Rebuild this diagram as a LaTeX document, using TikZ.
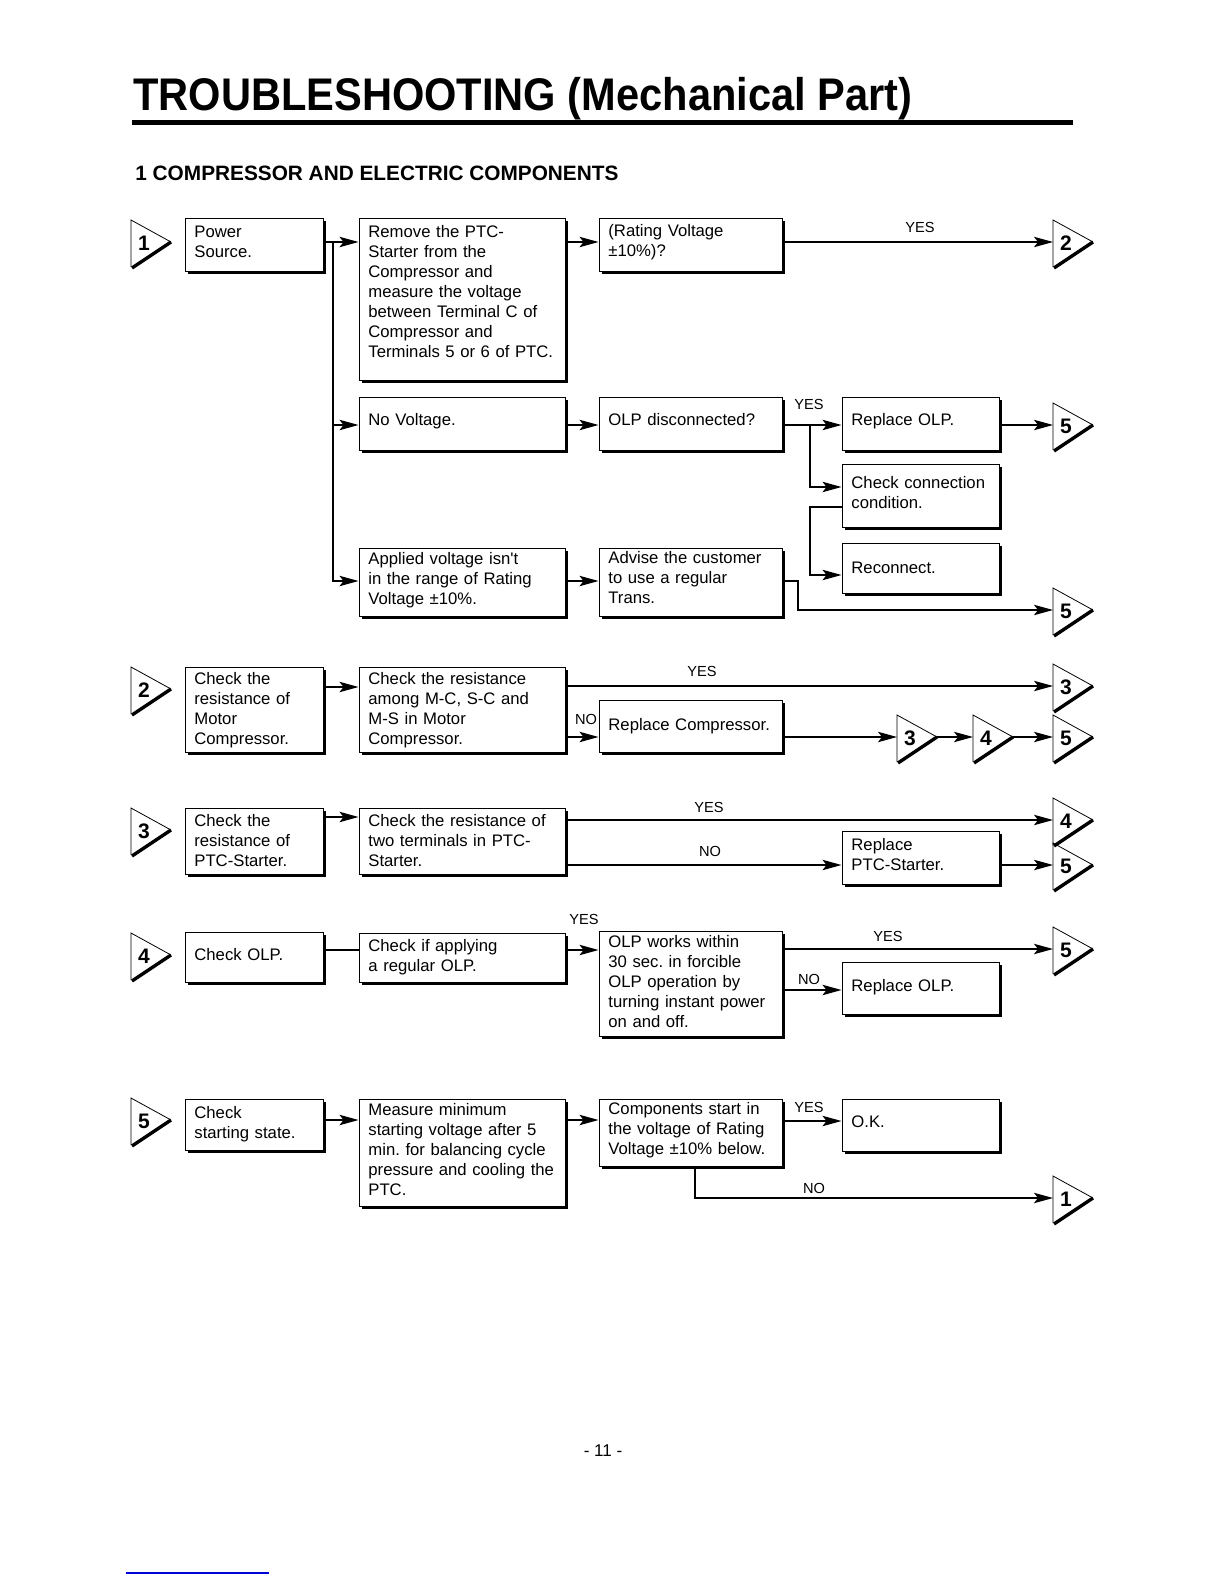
\documentclass[tikz,border=0pt]{standalone}
\usepackage{fontspec}
\setmainfont{Liberation Sans}
\usetikzlibrary{arrows.meta,shadows,fit,calc}
\frenchspacing

\tikzset{
  boxsty/.style={draw=black, line width=0.5pt, fill=white, inner sep=0pt,
    drop shadow={fill=black, opacity=1, shadow xshift=1.6pt, shadow yshift=-1.6pt}},
  txt/.style={inner sep=0pt, align=left, font=\fontsize{8.35}{10}\selectfont},
  lbl/.style={inner sep=0pt, font=\fontsize{7.3}{8}\selectfont},
  arr/.style={line width=0.6pt, -{Stealth[length=9.5pt,width=5.2pt,inset=2pt]}},
  conn/.style={line width=0.6pt},
  mkthin/.style={line width=0.4pt},
  mkthick/.style={line width=1.7pt},
  mknum/.style={inner sep=0pt, font=\fontsize{10.5}{11}\selectfont\bfseries},
}

% box: name, x1, y1, x2, y2, first-baseline offset, text
\newcommand{\bx}[7]{%
  \node[boxsty, fit={(#2,#3) (#4,#5)}] (#1) {};
  \pgfmathsetmacro{\tw}{0.5*(#4-#2-10)}
  \node[txt, text width=\tw pt, anchor=base west] (#1t) at (#2+9,#3+#6) {#7};
}
% marker: name, x, y (arrival point), number
\newcommand{\mk}[4]{%
  \coordinate (#1) at (#2,#3);
  \coordinate (#1t) at (#2+40,#3);
  \draw[mkthin] (#2,#3+25) -- (#2,#3-22) -- (#2+40,#3);
  \draw[mkthick] (#2+40,#3) -- (#2+1,#3+26);
  \node[mknum] (#1n) at (#2+13,#3+1) {#4};
}

\begin{document}
\begin{tikzpicture}[x=0.5pt, y=-0.5pt]
\path[use as bounding box, fill=white] (0,0) rectangle (1224,1584);

% headings
\node[anchor=base west, inner sep=0pt, font=\fontsize{20.8}{24}\selectfont\bfseries] (title) at (133,111)
  {\scalebox{1}[1.1]{TROUBLESHOOTING (Mechanical Part)}};
\draw[line width=2.5pt] (132,123) -- (1073,123);
\node[anchor=base west, inner sep=0pt, font=\fontsize{10.4}{12}\selectfont\bfseries] (sub) at (135,180)
  {1 COMPRESSOR AND ELECTRIC COMPONENTS};

% ---------- boxes ----------
\bx{A1}{185}{218}{323}{271}{19}{Power\\Source.}
\bx{A2}{359}{218}{565}{380}{19}{Remove the PTC-\\Starter from the\\Compressor and\\measure the voltage\\between Terminal C of\\Compressor and\\Terminals 5 or 6 of PTC.}
\bx{A3}{599}{218}{782}{271}{18}{(Rating Voltage\\±10\%)?}
\bx{B1}{359}{397}{565}{450}{28}{No Voltage.}
\bx{B2}{599}{397}{782}{450}{28}{OLP disconnected?}
\bx{B3}{842}{397}{999}{450}{28}{Replace OLP.}
\bx{B4}{842}{464}{999}{527}{24}{Check connection\\condition.}
\bx{B5}{842}{543}{999}{593}{30}{Reconnect.}
\bx{C1}{359}{548}{565}{616}{16}{Applied voltage isn\textquotesingle t\\in the range of Rating\\Voltage ±10\%.}
\bx{C2}{599}{548}{782}{616}{15}{Advise the customer\\to use a regular\\Trans.}

\bx{D1}{185}{667}{323}{752}{17}{Check the\\resistance of\\Motor\\Compressor.}
\bx{D2}{359}{667}{565}{752}{17}{Check the resistance\\among M-C, S-C and\\M-S in Motor\\Compressor.}
\bx{D3}{599}{700}{782}{752}{30}{Replace Compressor.}

\bx{E1}{185}{808}{323}{874}{18}{Check the\\resistance of\\PTC-Starter.}
\bx{E2}{359}{808}{565}{874}{18}{Check the resistance of\\two terminals in PTC-\\Starter.}
\bx{E3}{842}{831}{999}{884}{19}{Replace\\PTC-Starter.}

\bx{F1}{185}{932}{323}{982}{28}{Check OLP.}
\bx{F2}{359}{933}{565}{982}{18}{Check if applying\\a regular OLP.}
\bx{F3}{599}{931}{782}{1036}{16}{OLP works within\\30 sec. in forcible\\OLP operation by\\turning instant power\\on and off.}
\bx{F4}{842}{962}{999}{1014}{29}{Replace OLP.}

\bx{G1}{185}{1099}{323}{1150}{19}{Check\\starting state.}
\bx{G2}{359}{1099}{565}{1206}{16}{Measure minimum\\starting voltage after 5\\min. for balancing cycle\\pressure and cooling the\\PTC.}
\bx{G3}{599}{1099}{782}{1166}{15}{Components start in\\the voltage of Rating\\Voltage ±10\% below.}
\bx{G4}{842}{1099}{999}{1151}{28}{O.K.}

% ---------- markers ----------
\mk{m1L}{131}{242}{1}
\mk{m2L}{131}{689}{2}
\mk{m3L}{131}{830}{3}
\mk{m4L}{131}{955}{4}
\mk{m5L}{131}{1120}{5}

\mk{m2r}{1053}{242}{2}
\mk{m5a}{1053}{425}{5}
\mk{m5b}{1053}{610}{5}
\mk{m3a}{1053}{686}{3}
\mk{m3b}{897}{737}{3}
\mk{m4b}{973}{737}{4}
\mk{m5c}{1053}{737}{5}
\mk{m4c}{1053}{820}{4}
\mk{m5d}{1053}{865}{5}
\mk{m5e}{1053}{949}{5}
\mk{m1b}{1053}{1198}{1}

% ---------- level coordinates ----------
\coordinate (ya) at (0,242);
\coordinate (yb) at (0,425);
\coordinate (yc) at (0,581);
\coordinate (yd) at (0,487);
\coordinate (ye) at (0,507);
\coordinate (yg) at (0,687);
\coordinate (yi) at (0,737);
\coordinate (yj) at (0,817);
\coordinate (yk) at (0,950);
\coordinate (yl) at (0,990);
\coordinate (ym) at (0,1120);
\coordinate (yn) at (0,1121);
\coordinate (j1) at (333,242);
\coordinate (j2) at (810,425);
\coordinate (j3) at (810,575);
\coordinate (j4) at (798,610);
\coordinate (j5) at (695,1198);

% ---------- connectors: block 1 ----------
\draw[conn] (A1.east |- ya) -- (j1);
\draw[arr] (j1) -- (A2.west |- ya);
\draw[arr] (j1 |- yb) -- (B1.west |- yb);
\draw[arr] (j1) |- (C1.west |- yc);
\draw[arr] (A2.east |- ya) -- (A3.west |- ya);
\draw[arr] (A3.east |- ya) -- (m2r);
\node[lbl] (l1) at (920,227) {YES};
\draw[arr] (B1.east |- yb) -- (B2.west |- yb);
\draw[arr] (B2.east |- yb) -- (B3.west |- yb);
\node[lbl] (l2) at (809,404) {YES};
\draw[arr] (j2) |- (B4.west |- yd);
\draw[arr] (B4.west |- ye) -| (j3) -- (B5.west |- j3);
\draw[arr] (B3.east |- yb) -- (m5a);
\draw[arr] (C1.east |- yc) -- (C2.west |- yc);
\draw[arr] (C2.east |- yc) -| (j4) -- (m5b);

% ---------- block 2 ----------
\draw[arr] (D1.east |- yg) -- (D2.west |- yg);
\draw[arr] (D2.east |- m3a) -- (m3a);
\node[lbl] (l3) at (702,671) {YES};
\draw[arr] (D2.east |- yi) -- (D3.west |- yi);
\node[lbl] (l4) at (586,719) {NO};
\draw[arr] (D3.east |- yi) -- (m3b);
\draw[arr] (m3bt) -- (m4b);
\draw[arr] (m4bt) -- (m5c);

% ---------- block 3 ----------
\draw[arr] (E1.east |- yj) -- (E2.west |- yj);
\draw[arr] (E2.east |- m4c) -- (m4c);
\node[lbl] (l5) at (709,807) {YES};
\draw[arr] (E2.east |- m5d) -- (E3.west |- m5d);
\node[lbl] (l6) at (710,851) {NO};
\draw[arr] (E3.east |- m5d) -- (m5d);

% ---------- block 4 ----------
\draw[conn] (F1.east |- yk) -- (F2.west |- yk);
\draw[arr] (F2.east |- yk) -- (F3.west |- yk);
\node[lbl] (l7) at (584,919) {YES};
\draw[arr] (F3.east |- m5e) -- (m5e);
\node[lbl] (l8) at (888,936) {YES};
\draw[arr] (F3.east |- yl) -- (F4.west |- yl);
\node[lbl] (l9) at (809,979) {NO};

% ---------- block 5 ----------
\draw[arr] (G1.east |- ym) -- (G2.west |- ym);
\draw[arr] (G2.east |- ym) -- (G3.west |- ym);
\draw[arr] (G3.east |- yn) -- (G4.west |- yn);
\node[lbl] (l10) at (809,1107) {YES};
\draw[arr] (j5 |- G3.south) -- (j5) -- (m1b);
\node[lbl] (l11) at (814,1188) {NO};

% footer
\node[inner sep=0pt, font=\fontsize{8.5}{10}\selectfont] (pg) at (603,1451) {- 11 -};
\draw[blue!85!black, line width=0.7pt] (126,1573) -- (269,1573);
\end{tikzpicture}
\end{document}
